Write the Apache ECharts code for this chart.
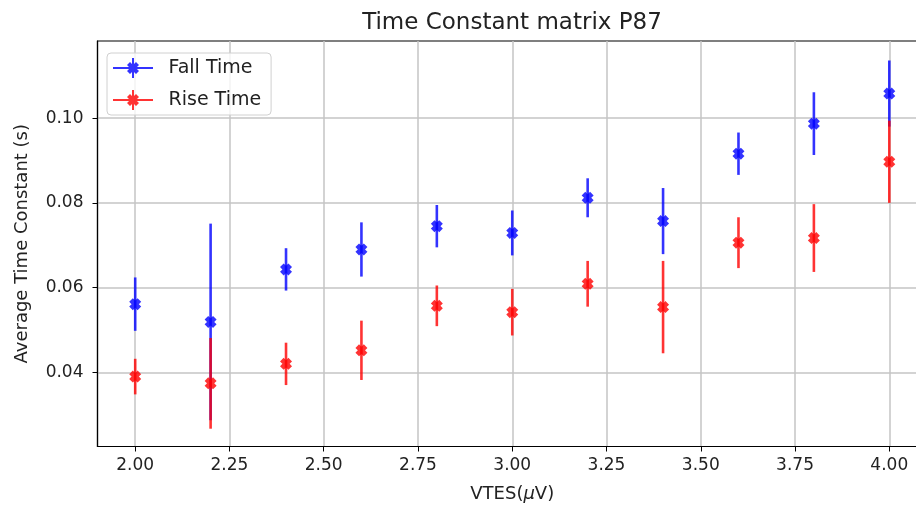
<!DOCTYPE html>
<html>
<head>
<meta charset="utf-8">
<script src="https://cdn.jsdelivr.net/npm/echarts@6/dist/echarts.min.js"></script>
<style>
  html, body { margin: 0; padding: 0; background: #fff; }
  #main { width: 916px; height: 509px; }
</style>
</head>
<body>
<div id="main"></div>
<script>
var vtes = [2.0, 2.2, 2.4, 2.6, 2.8, 3.0, 3.2, 3.4, 3.6, 3.8, 4.0];
var fallMean = [0.0561, 0.0519, 0.0643, 0.0690, 0.0745, 0.0729, 0.0812, 0.0757, 0.0916, 0.0987, 0.1058];
var fallErr = [0.0063, 0.0232, 0.0050, 0.0064, 0.0050, 0.0053, 0.0046, 0.0078, 0.0050, 0.0074, 0.0078];
var riseMean = [0.0390, 0.0374, 0.0420, 0.0452, 0.0557, 0.0542, 0.0609, 0.0554, 0.0706, 0.0717, 0.0897];
var riseErr = [0.0042, 0.0107, 0.0050, 0.0070, 0.0048, 0.0055, 0.0054, 0.0109, 0.0060, 0.0080, 0.0097];
var xTicks = [2.00, 2.25, 2.50, 2.75, 3.00, 3.25, 3.50, 3.75, 4.00];
var yTicks = [0.04, 0.06, 0.08, 0.10];

var FONT = 'DejaVu Sans';
var BLUE = 'rgba(0,0,255,0.8)';
var RED = 'rgba(255,0,0,0.8)';

// bold filled "X" marker like matplotlib's 'X'
var xMarker = 'path://M0,3 L3,0 L5,2 L7,0 L10,3 L8,5 L10,7 L7,10 L5,8 L3,10 L0,7 L2,5 Z';
// legend handle: line + vertical error bar + X marker
var legendIcon = 'path://M0,9 L40,9 L40,11 L0,11 Z M19,0 L21,0 L21,20 L19,20 Z ' +
  'M14,7 L17,4 L20,7 L23,4 L26,7 L23,10 L26,13 L23,16 L20,13 L17,16 L14,13 L17,10 Z';

function errData(mean, err) {
  return vtes.map(function (x, i) { return [x, mean[i] - err[i], mean[i] + err[i]]; });
}
function ptData(mean) {
  return vtes.map(function (x, i) { return [x, mean[i]]; });
}
function errRender(color) {
  return function (params, api) {
    var p1 = api.coord([api.value(0), api.value(1)]);
    var p2 = api.coord([api.value(0), api.value(2)]);
    return {
      type: 'line',
      shape: { x1: p1[0], y1: p1[1], x2: p2[0], y2: p2[1] },
      style: { stroke: color, lineWidth: 2.6 }
    };
  };
}

var myChart = echarts.init(document.getElementById('main'));
var option = {
  animation: false,
  backgroundColor: '#fff',
  title: {
    text: 'Time Constant matrix P87',
    left: 507,
    top: 7,
    textAlign: 'center',
    textStyle: { fontFamily: FONT, fontSize: 23, fontWeight: 'normal', color: '#222' }
  },
  legend: {
    left: 107,
    top: 53,
    orient: 'vertical',
    itemWidth: 43,
    itemHeight: 20,
    itemGap: 12,
    padding: [5, 10, 5, 6],
    backgroundColor: 'rgba(255,255,255,0.8)',
    borderColor: '#d0d0d0',
    borderWidth: 1,
    borderRadius: 4,
    textStyle: { fontFamily: FONT, fontSize: 19, color: '#222', padding: [0, 0, 0, 9] },
    data: [
      { name: 'Fall Time', icon: legendIcon },
      { name: 'Rise Time', icon: legendIcon }
    ]
  },
  grid: {
    left: 97.5,
    width: 829.5,
    top: 41,
    bottom: 62.5,
    outerBoundsMode: 'none',
    containLabel: false,
    show: true,
    borderColor: '#000',
    borderWidth: 1.2,
    backgroundColor: 'transparent'
  },
  xAxis: {
    type: 'value',
    min: 1.9,
    max: 4.1,
    name: 'VTES({i|μ}V)',
    nameLocation: 'middle',
    nameGap: 39,
    nameTextStyle: {
      fontFamily: FONT, fontSize: 18, color: '#222',
      rich: { i: { fontFamily: FONT, fontSize: 18, fontStyle: 'italic', color: '#222' } }
    },
    axisLine: { lineStyle: { color: '#000', width: 1.2 } },
    axisTick: { show: true, length: 5, lineStyle: { color: '#000' }, customValues: xTicks },
    axisLabel: {
      customValues: xTicks,
      margin: 11,
      fontFamily: FONT, fontSize: 17, color: '#222',
      formatter: function (v) { return v.toFixed(2); }
    },
    splitLine: { show: true, lineStyle: { color: '#c4c4c4', width: 1.5 } }
  },
  yAxis: {
    type: 'value',
    min: 0.0225,
    max: 0.1182,
    name: 'Average Time Constant (s)',
    nameLocation: 'middle',
    nameGap: 66,
    nameTextStyle: { fontFamily: FONT, fontSize: 18, color: '#222' },
    axisLine: { show: true, lineStyle: { color: '#000', width: 1.2 } },
    axisTick: { show: true, length: 5, lineStyle: { color: '#000' }, customValues: yTicks },
    axisLabel: {
      customValues: yTicks,
      margin: 14,
      fontFamily: FONT, fontSize: 17, color: '#222',
      formatter: function (v) { return v.toFixed(2); }
    },
    splitLine: { show: true, lineStyle: { color: '#c4c4c4', width: 1.5 } }
  },
  series: [
    {
      name: 'Fall Time err',
      type: 'custom',
      renderItem: errRender(BLUE),
      encode: { x: 0, y: [1, 2] },
      data: errData(fallMean, fallErr)
    },
    {
      name: 'Fall Time',
      type: 'scatter',
      symbol: xMarker,
      symbolSize: 12,
      itemStyle: { color: '#0000ff' },
      data: ptData(fallMean)
    },
    {
      name: 'Rise Time err',
      type: 'custom',
      renderItem: errRender(RED),
      encode: { x: 0, y: [1, 2] },
      data: errData(riseMean, riseErr)
    },
    {
      name: 'Rise Time',
      type: 'scatter',
      symbol: xMarker,
      symbolSize: 12,
      itemStyle: { color: '#ff0000' },
      data: ptData(riseMean)
    }
  ]
};

option && myChart.setOption(option);
</script>
</body>
</html>
